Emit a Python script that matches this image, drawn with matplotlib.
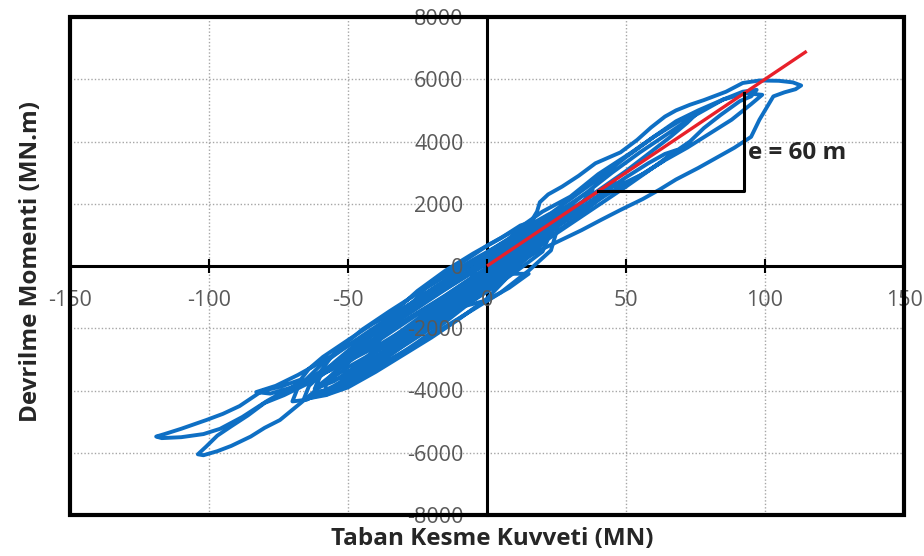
import matplotlib.pyplot as plt
from matplotlib.patches import Rectangle

plt.rcParams['font.family'] = ['Open Sans', 'DejaVu Sans']

# axis ticks
x_ticks = [-150, -100, -50, 0, 50, 100, 150]
y_ticks = [-8000, -6000, -4000, -2000, 0, 2000, 4000, 6000, 8000]

# dense cycles around the origin (shear MN, moment MN.m)
core_shear = [0, 10, 20, 24, 20, 10, 0, -10, -20, -30, -40,
              -35, -25, -15, -5, 5, 15, 22, 27,
              23, 15, 5, -5, -15, -25, -35, -45, -55, -62,
              -60, -55, -45, -35, -25, -15, -5, 5, 12, 18,
              15, 5, -5, -15, -25, -35, -45, -52, -56,
              -52, -45, -35, -25, -15, -5, 5, 15, 20,
              16, 5, -5, -15, -25, -35, -42,
              -40, -35, -25, -15, -5, 5, 12, 17,
              14, 8, 0, -10, -20, -30, -40, -50, -58,
              -58, -50, -40, -30, -20, -10, 0, 10, 16,
              12, 5, -5, -15, -25, -35, -40]
core_moment = [0, 500, 1150, 1300, 465, -205, -825, -1395, -1965, -2485, -2600,
               -1800, -1100, -500, 100, 700, 1250, 1600, 1700,
               500, -150, -850, -1400, -1950, -2500, -3000, -3500, -3950, -4050,
               -3400, -2800, -2050, -1450, -880, -330, 200, 700, 1100, 1250,
               500, -200, -850, -1450, -2050, -2650, -3250, -3600, -3650,
               -3000, -2450, -1850, -1300, -750, -200, 350, 900, 1100,
               600, -100, -700, -1300, -1900, -2500, -2850,
               -2300, -1600, -800, -150, 400, 900, 1300, 1450,
               500, -300, -1050, -1700, -2300, -2850, -3400, -3900, -4150,
               -3700, -2950, -2350, -1800, -1250, -700, -150, 400, 720,
               100, -450, -1100, -1700, -2280, -2850, -3150]

# more small cycles filling the central band
band_shear = [-5, -15, -25, -35, -45, -55, -65, -70,
              -68, -60, -50, -40, -30, -20, -10, 0, 8, 13,
              10, 0, -10, -20, -30, -40, -48, -52,
              -48, -40, -30, -20, -10, 0, 10, 18, 23,
              20, 10, 0, -10, -20, -30, -40, -50, -60, -66,
              -64, -55, -45, -35, -25, -15, -5, 5, 10,
              7, 0, -10, -20, -30, -38, -42,
              -38, -28, -18, -8, 2, 10, 15, 22, 30,
              26, 18, 8, -2]
band_moment = [-900, -1500, -2100, -2700, -3300, -3850, -4300, -4350,
               -3900, -3200, -2550, -1950, -1350, -780, -220, 350, 800, 1000,
               450, -450, -1100, -1700, -2300, -2900, -3350, -3400,
               -2850, -2300, -1650, -1050, -450, 150, 750, 1200, 1400,
               800, 0, -700, -1350, -1950, -2550, -3150, -3700, -4150, -4300,
               -3850, -3100, -2350, -1700, -1050, -450, 150, 700, 900,
               300, -300, -900, -1500, -2100, -2550, -2700,
               -2150, -1400, -700, -50, 550, 1000, 1300, 1650, 1950,
               1400, 800, 200, -450]

band2_shear = [-30, -20, -10, 0, 8, 14,
               12, 5, -5, -15, -25, -35, -45, -55, -62,
               -60, -50, -40, -30, -20, -10, 0, 10, 20, 26,
               22, 12, 0, -10, -20, -30, -40, -50, -58, -64,
               -60, -50, -40, -30, -20, -10, 0, 10, 18,
               14, 5, -5, -15, -25, -35, -45, -52,
               -48, -38, -28, -18, -8, 2, 12, 20, 25,
               20, 10, 0,
               10, 20, 30, 40, 46, 42, 32, 22, 12, 0,
               5, 15, 25, 35, 38, 33, 23, 13, 3]
band2_moment = [-1500, -500, 50, 650, 1050, 1300,
                700, 100, -500, -1150, -1800, -2450, -3100, -3700, -3950,
                -3550, -2800, -2150, -1550, -950, -350, 250, 850, 1450, 1750,
                1050, 300, -550, -1250, -1900, -2550, -3200, -3800, -4150, -4250,
                -3800, -3100, -2450, -1850, -1250, -650, -50, 550, 950,
                300, -400, -1100, -1800, -2450, -3050, -3600, -3850,
                -3250, -2550, -1900, -1250, -650, -50, 600, 1100, 1350,
                700, -100, -200,
                500, 1150, 1750, 2400, 2700, 2250, 1550, 900, 250, -500,
                350, 1050, 1700, 2300, 2450, 1900, 1200, 550, -100]

# excursions to the negative side
neg_shear = [-20, -30, -41, -50, -59, -64, -67, -74, -81, -84, -89, -95, -101, -110, -116, -119,
             -117, -110, -102, -96, -88, -79, -72, -66, -58, -50, -40, -30, -18, -8,
             -5, -15, -25, -35, -45, -55, -65, -73, -80, -86, -92, -97, -101, -104,
             -102, -97, -92, -85, -80, -74.5, -67, -59, -50, -41, -35, -25, -15, 0, 8, 15,
             -10, -25, -40, -55, -68, -76, -83,
             -78, -70, -62, -52, -40, -28, -15, -5]
neg_moment = [-950, -1350, -1850, -2380, -2920, -3300, -3650, -3870, -4020, -4200, -4500, -4750, -4950, -5230, -5400, -5480,
              -5530, -5500, -5400, -5230, -4850, -4330, -3980, -3700, -3300, -2850, -2300, -1800, -1150, -600,
              -350, -950, -1500, -2050, -2650, -3250, -3800, -4150, -4400, -4800, -5150, -5450, -5800, -6050,
              -6080, -5950, -5780, -5480, -5200, -4950, -4400, -3800, -3250, -2800, -2400, -1900, -1450, -1100, -700, -250,
              -250, -1100, -2000, -2850, -3500, -3850, -4050,
              -4100, -3900, -3600, -3150, -2600, -1950, -1200, -700]

# excursions to the positive side
pos_shear = [0, 10, 15, 18, 19, 22, 27, 33, 39, 48, 54, 59, 64, 68, 73, 78, 86, 92, 98, 105, 110, 113,
             111, 107, 103, 101, 98, 95, 89, 83, 76, 68, 62, 56, 48, 41, 34, 27, 20, 15, 8, 0, -8,
             -5, 5, 15, 25, 35, 45, 55, 65, 75, 85, 92, 97,
             95, 91, 84, 78, 73, 66, 58, 50, 40, 30, 20, 10, 0,
             5, 12, 20, 30, 40, 46, 52, 60, 68, 76, 85, 93, 99,
             95, 88, 80, 72, 64, 55, 45, 35, 25, 15, 5,
             10, 25, 40, 50, 58, 64, 68, 63, 56, 49, 45, 35, 20, 5,
             0, 10, 20, 30, 40, 50, 60, 70, 76,
             72, 66, 58, 50, 42, 34, 25, 15, 5]
pos_moment = [-300, 700, 1300, 1750, 2050, 2300, 2550, 2900, 3300, 3650, 4050, 4450, 4800, 5000, 5180, 5330, 5600, 5880, 5960, 5950, 5900, 5800,
              5680, 5580, 5450, 5150, 4700, 4150, 3800, 3500, 3150, 2780, 2450, 2150, 1800, 1480, 1150, 850, 550, 300, -100, -600, -1100,
              -400, 200, 900, 1600, 2300, 3000, 3650, 4250, 4850, 5350, 5600, 5660,
              5450, 5300, 4850, 4430, 4000, 3570, 3050, 2550, 1950, 1350, 750, 150, -450,
              600, 1250, 1750, 2230, 2950, 3300, 3650, 4150, 4650, 5000, 5350, 5550, 5500,
              5200, 4700, 4250, 3800, 3400, 2900, 2400, 1850, 1250, 650, 0,
              300, 1300, 2250, 2850, 3300, 3600, 3720, 3350, 2950, 2650, 2560, 1900, 950, 100,
              100, 900, 1500, 2150, 2800, 3500, 4150, 4700, 4950,
              4600, 4150, 3600, 3050, 2550, 2050, 1500, 850, 200]

# eccentricity line M = 60 V and its slope triangle
ecc_shear = [0, 115]
ecc_moment = [0, 6900]
tri_shear = [40, 92.5, 92.5]
tri_moment = [2400, 2400, 5550]

blue = '#0e6fc4'

fig = plt.figure(figsize=(9.24, 5.56), dpi=100)
ax = fig.add_axes([70 / 924, 41 / 556, 834 / 924, 498 / 556])
ax.set_xlim(-150, 150)
ax.set_ylim(-8000, 8000)

# dotted gridlines under everything
for x in x_ticks:
    if x not in (-150, 0, 150):
        ax.axvline(x, color='#a6a6a6', lw=1, ls=(0, (1, 1.5)), zorder=1)
for y in y_ticks:
    if y not in (-8000, 0, 8000):
        ax.axhline(y, color='#a6a6a6', lw=1, ls=(0, (1, 1.5)), zorder=1)

for xs, ys in [(core_shear, core_moment), (band_shear, band_moment),
               (band2_shear, band2_moment), (neg_shear, neg_moment),
               (pos_shear, pos_moment)]:
    ax.plot(xs, ys, color=blue, lw=2.8, zorder=2, solid_joinstyle='round')

ax.plot(ecc_shear, ecc_moment, color='#e8202a', lw=2.4, zorder=4, solid_capstyle='butt')
ax.plot(tri_shear, tri_moment, color='black', lw=2.2, zorder=4)
ax.text(94, 3630, 'e = 60 m', fontsize=17.5, fontweight='bold', color='#262626',
        ha='left', va='center', zorder=5)

# axes crossing at the origin, thick frame around the plot
for side in ['top', 'right']:
    ax.spines[side].set_visible(False)
ax.spines['left'].set_position(('data', 0))
ax.spines['bottom'].set_position(('data', 0))
for side in ['left', 'bottom']:
    ax.spines[side].set_linewidth(2.2)
    ax.spines[side].set_zorder(1.5)
ax.add_patch(Rectangle((0, 0), 1, 1, transform=ax.transAxes, fill=False,
                       ec='black', lw=3, clip_on=False, zorder=6))

ax.set_xticks(x_ticks)
ax.set_yticks(y_ticks)
ax.set_xticklabels([str(v) for v in x_ticks])
ax.set_yticklabels([str(v) for v in y_ticks])
ax.tick_params(axis='x', direction='inout', length=10, width=1.5, pad=12,
               labelsize=15.5, labelcolor='#595959')
ax.tick_params(axis='y', length=0, pad=17, labelsize=15.5, labelcolor='#595959')
ax.xaxis.set_zorder(3)
ax.yaxis.set_zorder(3)

fig.text(492 / 924, 1 - 539 / 556, 'Taban Kesme Kuvveti (MN)', fontsize=17.5,
         fontweight='bold', color='#262626', ha='center', va='center')
fig.text(31 / 924, 1 - 262 / 556, 'Devrilme Momenti (MN.m)', fontsize=17.5,
         fontweight='bold', color='#262626', ha='center', va='center', rotation=90)

fig.savefig('out.png', dpi=100)
